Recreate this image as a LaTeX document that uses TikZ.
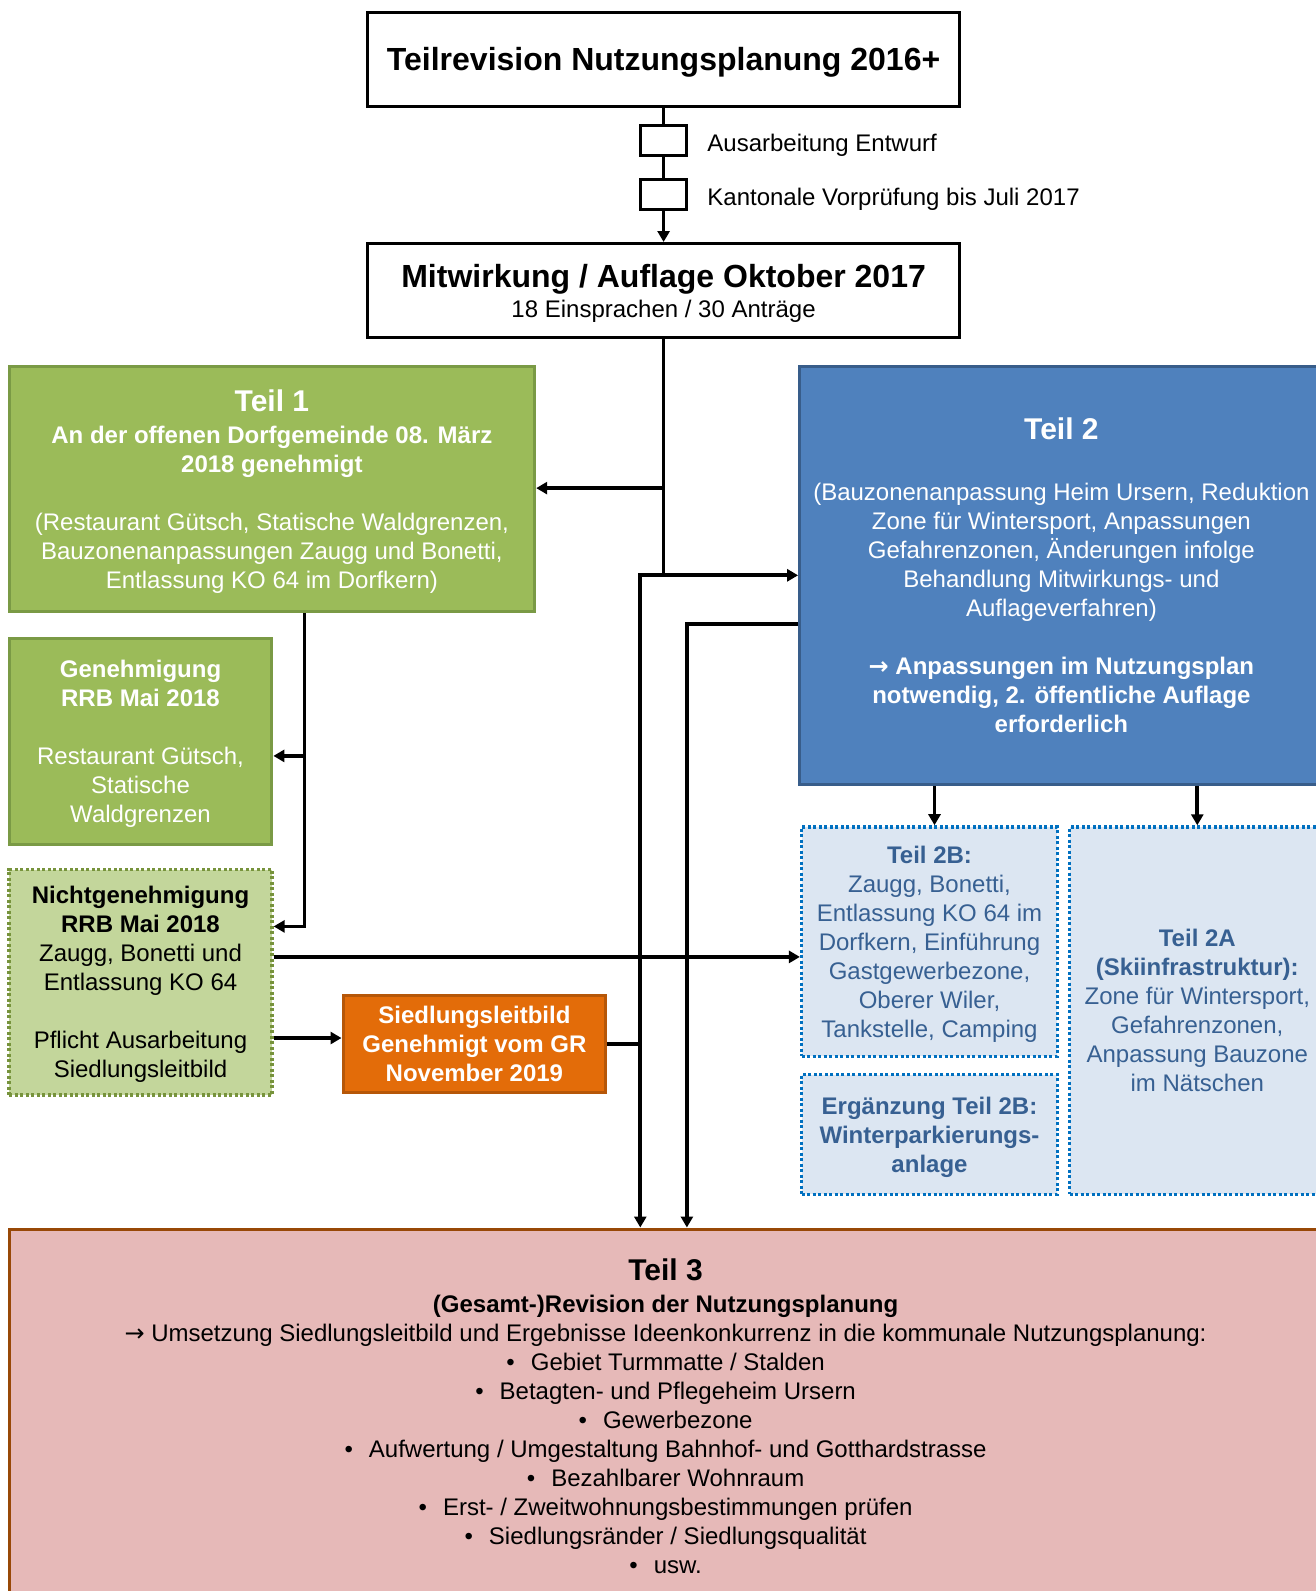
\documentclass[tikz,border=0pt]{standalone}
\usepackage{fontspec}
\setmainfont{Liberation Sans}
\newfontfamily\arrowfont{DejaVu Sans}
\usetikzlibrary{arrows.meta}
\definecolor{grn}{HTML}{9BBB59}
\definecolor{grnd}{HTML}{7A9A45}
\definecolor{grnl}{HTML}{C3D69B}
\definecolor{grnld}{HTML}{77933C}
\definecolor{org}{HTML}{E36C09}
\definecolor{orgd}{HTML}{B65708}
\definecolor{blu}{HTML}{4F81BD}
\definecolor{blud}{HTML}{385D8A}
\definecolor{blul}{HTML}{DCE6F2}
\definecolor{bludot}{HTML}{0070C0}
\definecolor{blutxt}{HTML}{376092}
\definecolor{pnk}{HTML}{E6B9B8}
\definecolor{pnkd}{HTML}{984807}
\tikzset{
  basebox/.style={inner sep=0pt, align=center, text depth=0pt, font=\fontsize{24}{29}\selectfont},
  blackbox/.style={basebox, draw=black, line width=3pt, fill=white},
  greenbox/.style={basebox, draw=grnd, line width=3pt, fill=grn, text=white},
  lightgreenbox/.style={basebox, draw=grnld, line width=3.5pt, dash pattern=on 3pt off 2.5pt, fill=grnl, text=black},
  orangebox/.style={basebox, draw=orgd, line width=3pt, fill=org, text=white},
  bluebox/.style={basebox, draw=blud, line width=3pt, fill=blu, text=white},
  palebox/.style={basebox, draw=bludot, line width=3.5pt, dash pattern=on 3pt off 2.5pt, fill=blul, text=blutxt},
  pinkbox/.style={basebox, draw=pnkd, line width=3pt, fill=pnk, text=black},
  smallbox/.style={draw=black, line width=3pt, fill=white, minimum width=46.7pt, minimum height=29.4pt, inner sep=0pt},
  conn/.style={line width=3.7pt, draw=black},
  arr/.style={conn, -{Triangle[length=11pt,width=12pt]}},
  darr/.style={conn, {Triangle[length=11pt,width=12pt]}-{Triangle[length=11pt,width=12pt]}},
  lbl/.style={anchor=west, inner sep=0pt, font=\fontsize{24}{29}\selectfont}
}
\newcommand{\bigtitle}[1]{{\fontsize{30}{30}\selectfont\bfseries #1}}
\begin{document}
\begin{tikzpicture}[x=1pt,y=-1pt]
\useasboundingbox (0,0) rectangle (1316,1591);

% boxes
\node[blackbox, minimum width=592.6pt, minimum height=94.4pt] (top) at (663.6,59.4)
  {\fontsize{32}{38}\selectfont\bfseries Teilrevision Nutzungsplanung 2016+};
\node[blackbox, minimum width=592.6pt, minimum height=94.4pt] (mit) at (663.6,290.7)
  {{\fontsize{32}{32}\selectfont\bfseries Mitwirkung / Auflage Oktober 2017}\\[1pt]
   18 Einsprachen / 30 Anträge};

\node[greenbox, minimum width=525.6pt, minimum height=245.6pt] (teil1) at (271.9,489.1)
  {\bigtitle{Teil 1}\\[3pt]
   \textbf{An der offenen Dorfgemeinde 08. März}\\
   \textbf{2018 genehmigt}\\[29pt]
   (Restaurant Gütsch, Statische Waldgrenzen,\\
   Bauzonenanpassungen Zaugg und Bonetti,\\
   Entlassung KO 64 im Dorfkern)};

\node[greenbox, minimum width=262.8pt, minimum height=206pt] (gen) at (140.5,741.2)
  {\textbf{Genehmigung}\\ \textbf{RRB Mai 2018}\\[29pt]
   Restaurant Gütsch,\\ Statische\\ Waldgrenzen};

\node[lightgreenbox, minimum width=262.8pt, minimum height=225.3pt] (nicht) at (140.5,982.2)
  {\textbf{Nichtgenehmigung}\\ \textbf{RRB Mai 2018}\\ Zaugg, Bonetti und\\ Entlassung KO 64\\[29pt]
   Pflicht Ausarbeitung\\ Siedlungsleitbild};

\node[orangebox, minimum width=262.8pt, minimum height=97.4pt] (sied) at (474.4,1044.1)
  {\bfseries Siedlungsleitbild\\ \bfseries Genehmigt vom GR\\ \bfseries November 2019};

\node[bluebox, minimum width=523.6pt, minimum height=418pt] (teil2) at (1061.4,575.3)
  {\bigtitle{Teil 2}\\[32pt]
   (Bauzonenanpassung Heim Ursern, Reduktion\\
   Zone für Wintersport, Anpassungen\\
   Gefahrenzonen, Änderungen infolge\\
   Behandlung Mitwirkungs- und\\
   Auflageverfahren)\\[29pt]
   \textbf{{\arrowfont →} Anpassungen im Nutzungsplan}\\
   \textbf{notwendig, 2. öffentliche Auflage}\\
   \textbf{erforderlich}};

\node[palebox, minimum width=255.7pt, minimum height=229.3pt] (t2b) at (929.5,941.6)
  {\textbf{Teil 2B:}\\ Zaugg, Bonetti,\\ Entlassung KO 64 im\\ Dorfkern, Einführung\\
   Gastgewerbezone,\\ Oberer Wiler,\\ Tankstelle, Camping};

\node[palebox, minimum width=255.7pt, minimum height=119.7pt] (erg) at (929.5,1134.4)
  {\bfseries Ergänzung Teil 2B:\\ \bfseries Winterparkierungs-\\ \bfseries anlage};

\node[palebox, minimum width=255.6pt, minimum height=367.3pt] (t2a) at (1197.3,1010.7)
  {\textbf{Teil 2A}\\ \textbf{(Skiinfrastruktur):}\\ Zone für Wintersport,\\ Gefahrenzonen,\\
   Anpassung Bauzone\\ im Nätschen};

\node[pinkbox, minimum width=1313pt, minimum height=375pt] (teil3) at (665.6,1416.5)
  {\bigtitle{Teil 3}\\[3pt]
   \textbf{(Gesamt-)Revision der Nutzungsplanung}\\
   {\arrowfont →} Umsetzung Siedlungsleitbild und Ergebnisse Ideenkonkurrenz in die kommunale Nutzungsplanung:\\
   \textbullet\hspace{16pt}Gebiet Turmmatte / Stalden\\
   \textbullet\hspace{16pt}Betagten- und Pflegeheim Ursern\\
   \textbullet\hspace{16pt}Gewerbezone\\
   \textbullet\hspace{16pt}Aufwertung / Umgestaltung Bahnhof- und Gotthardstrasse\\
   \textbullet\hspace{16pt}Bezahlbarer Wohnraum\\
   \textbullet\hspace{16pt}Erst- / Zweitwohnungsbestimmungen prüfen\\
   \textbullet\hspace{16pt}Siedlungsränder / Siedlungsqualität\\
   \textbullet\hspace{16pt}usw.};

% coordinates
\coordinate (j1) at (663.6,488.1);
\coordinate (j2) at (663.6,575.3);
\coordinate (j3) at (640.3,575.3);
\coordinate (k1) at (686.9,624.0);
\coordinate (t1b) at (304.4,0);
\coordinate (g1) at (304.4,755.9);
\coordinate (t1c) at (304.4,926.4);
\coordinate (n1) at (0,956.9);
\coordinate (n2) at (0,1038.0);
\coordinate (b1) at (934.5,0);
\coordinate (b2) at (1197.3,0);

% connectors
\draw[arr] (top.south) -- (mit.north);
\node[smallbox] (s1) at (663.6,140.5) {};
\node[smallbox] (s2) at (663.6,194.3) {};
\node[lbl] (l1) at (707.2,145) {Ausarbeitung Entwurf};
\node[lbl] (l2) at (707.2,198.8) {Kantonale Vorprüfung bis Juli 2017};

\draw[conn] (mit.south) -- (j2);
\draw[arr] (j1) -- (j1 -| teil1.east);
\draw[darr] (j3 -| teil2.west) -- (j3) -- (j3 |- teil3.north);
\draw[arr] (k1 -| teil2.west) -- (k1) -- (k1 |- teil3.north);

\draw[arr] (t1b |- teil1.south) -- (t1c) -- (t1c -| nicht.east);
\draw[arr] (g1) -- (g1 -| gen.east);

\draw[arr] (n1 -| nicht.east) -- (n1 -| t2b.west);
\draw[arr] (n2 -| nicht.east) -- (n2 -| sied.west);
\draw[conn] (sied.east) -- (sied.east -| j3);

\draw[arr] (b1 |- teil2.south) -- (b1 |- t2b.north);
\draw[arr] (b2 |- teil2.south) -- (b2 |- t2a.north);
\end{tikzpicture}
\end{document}
